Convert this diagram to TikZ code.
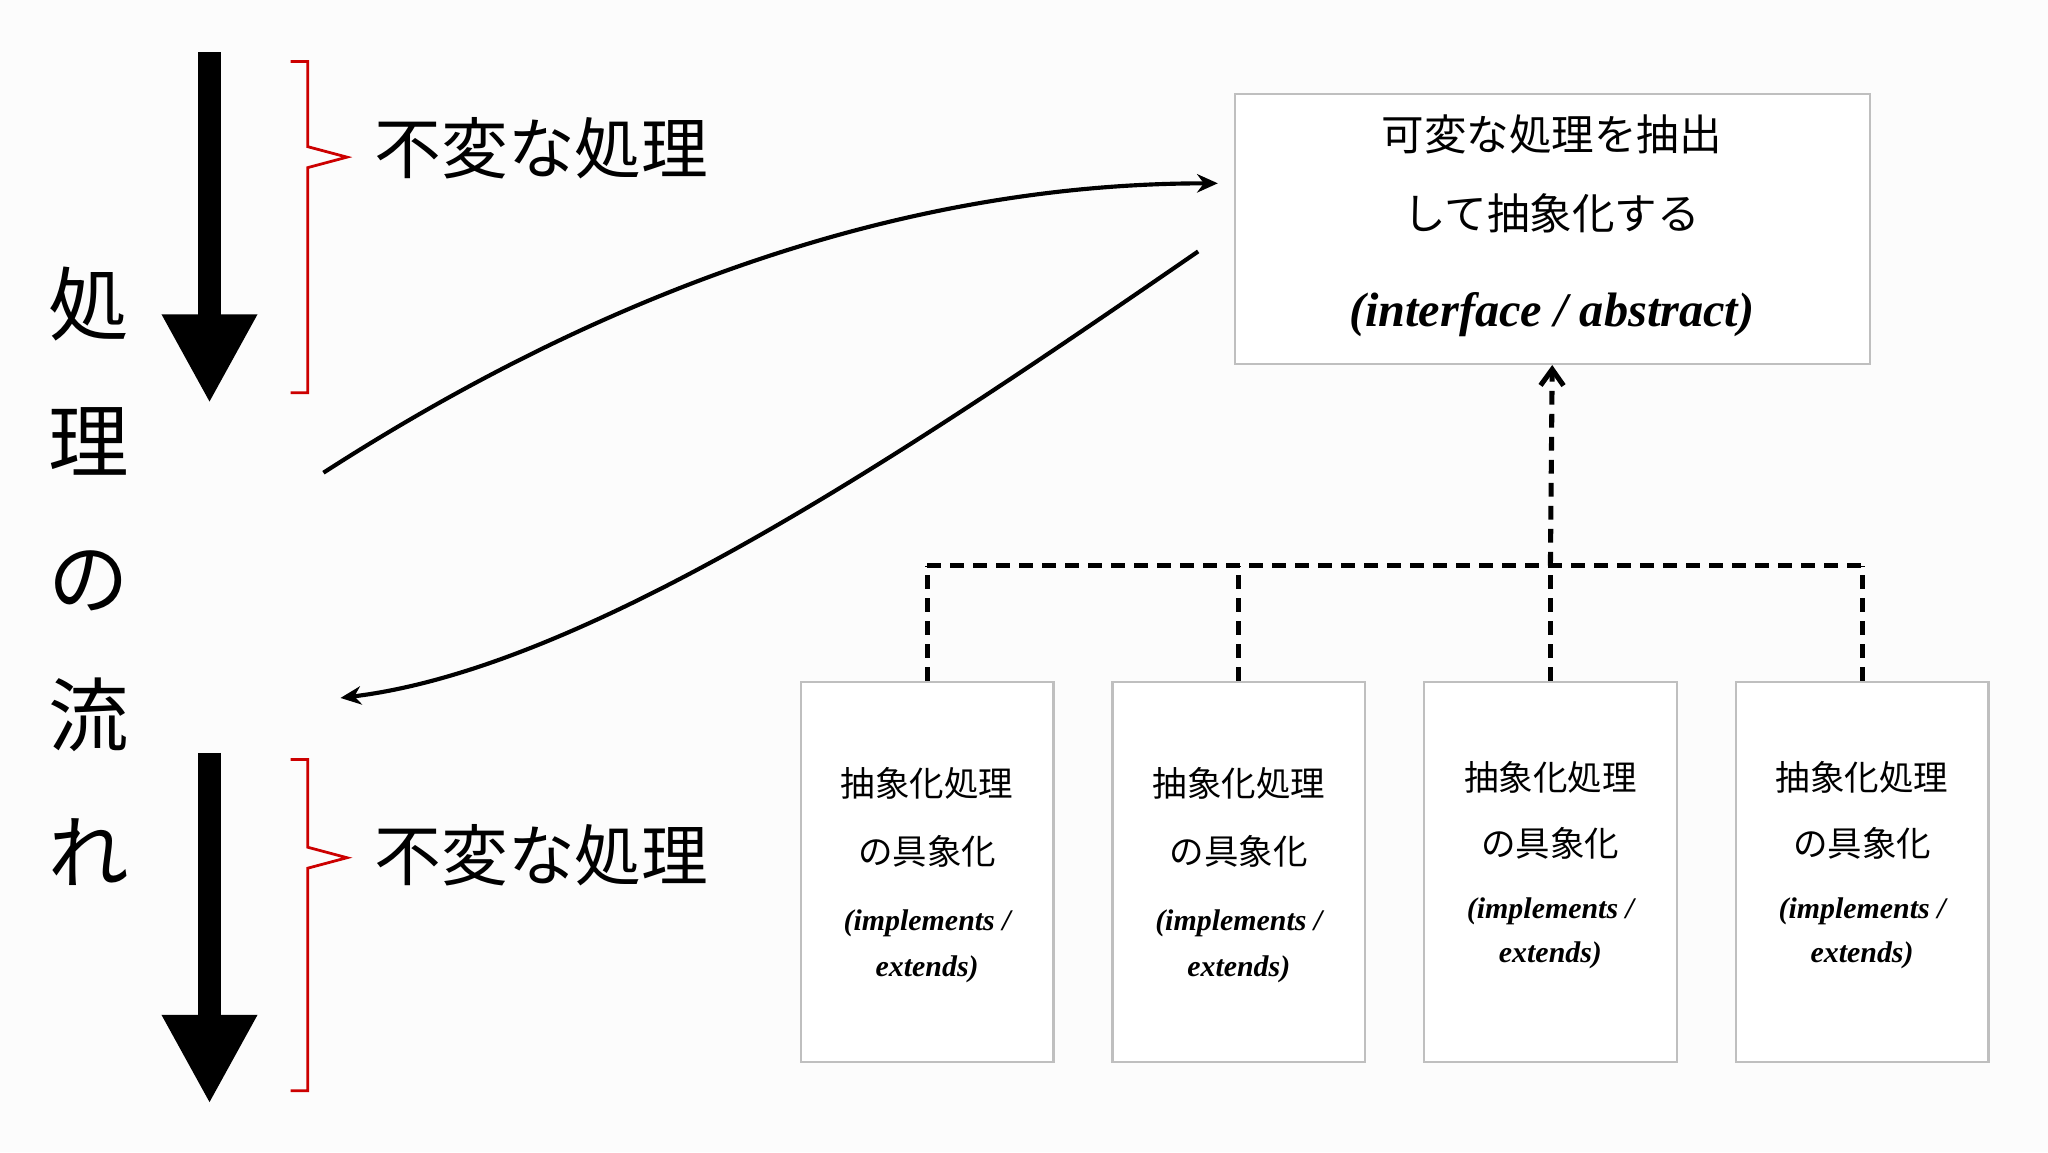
\documentclass[tikz,border=0pt]{standalone}
\usepackage{fontspec}
\setmainfont{Liberation Serif}
\newfontfamily\jp{Noto Sans CJK JP}[BoldFont={Noto Sans CJK JP}]
\usetikzlibrary{arrows.meta,positioning}
\tikzset{
	box/.style={draw=black!25, line width=1pt, fill=white, inner sep=0pt},
	impl/.style={box, minimum width=193*\u, minimum height=290*\u, align=center},
	flow/.style={line width=18*\u, -{Triangle[length=68*\u, width=68*\u]}},
	brace/.style={draw=red!80!black, line width=1.2pt},
	link/.style={line width=1.8pt, -{Stealth[length=9pt, width=8pt]}},
	dep/.style={line width=2.2pt, dash pattern=on 6pt off 4pt}
}
\def\u{0.02cm}
\begin{document}
\begin{tikzpicture}[x=0.02cm, y=-0.02cm]
	\useasboundingbox (0,0) rectangle (1564,880);
	\fill[black!1] (0,0) rectangle (1564,880);

	% Flow arrows
	\draw[flow] (160,40) -- (160,308);
	\draw[flow] (160,575) -- (160,843);
	\node[font=\jp\fontsize{35}{59.5}\selectfont, align=center] (flowlabel) at (68,440) {処\\理\\の\\流\\れ};

	% Invariant parts
	\draw[brace] (222,47) -- (235,47) -- (235,112) -- (265,120) -- (235,128) -- (235,300) -- (222,300);
	\draw[brace] (222,580) -- (235,580) -- (235,647) -- (265,655) -- (235,663) -- (235,833) -- (222,833);
	\node[font=\jp\fontsize{29}{32}\selectfont, anchor=west] (fixa) at (280,113) {不変な処理};
	\node[font=\jp\fontsize{29}{32}\selectfont, anchor=west] (fixb) at (280,653) {不変な処理};

	% Abstraction
	\node[box, minimum width=485*\u, minimum height=206*\u, anchor=north west] (abs) at (942,71) {};
	\node[font=\jp\fontsize{18.5}{20}\selectfont] at (1185,103) {可変な処理を抽出};
	\node[font=\jp\fontsize{18.5}{20}\selectfont] at (1185,163) {して抽象化する};
	\node[font=\bfseries\itshape\fontsize{21}{24}\selectfont] at (1185,240) {(interface / abstract)};

	\coordinate (outa) at (247,361);
	\coordinate (ina) at (930,140);
	\coordinate (outb) at (915,192);
	\coordinate (inb) at (260,533);
	\draw[link] (outa) .. controls (450,230) and (680,140) .. (ina);
	\draw[link] (outb) .. controls (700,340) and (450,510) .. (inb);

	% Implementations
	\foreach \i/\x/\y in {1/708/0, 2/946/0, 3/1184/-4, 4/1422/-4}{
		\node[impl, anchor=north] (impl\i) at (\x,520) {};
		\node[font=\jp\fontsize{15}{16}\selectfont] at (\x,598+\y) {抽象化処理};
		\node[font=\jp\fontsize{15}{16}\selectfont] at (\x,650+1.5*\y) {の具象化};
		\node[font=\bfseries\itshape\fontsize{13}{14}\selectfont] at (\x,705+2.2*\y) {(implements /};
		\node[font=\bfseries\itshape\fontsize{13}{14}\selectfont] at (\x,740+2.7*\y) {extends)};
		\draw[dep] (impl\i.north) -- (\x,432);
	}
	\draw[dep] (708,432) -- (1422,432);
	\draw[dep, -{Straight Barb[length=7pt, width=10pt]}] (1184,432) -- (abs.south);
\end{tikzpicture}
\end{document}
